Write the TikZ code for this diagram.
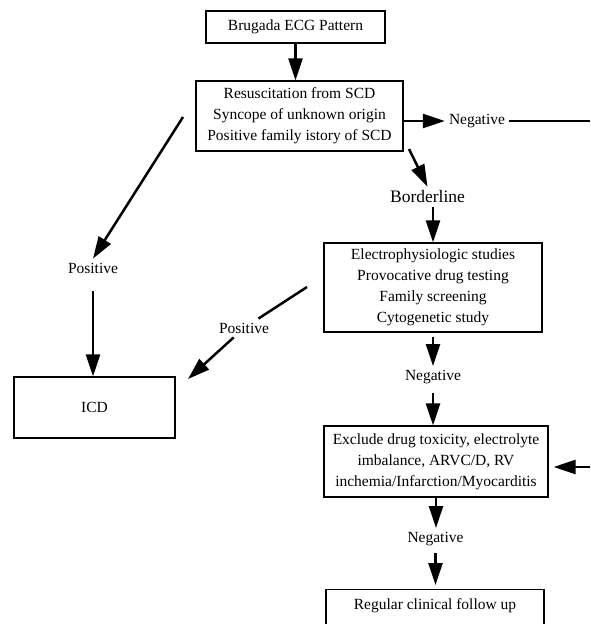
\documentclass[tikz,border=0pt]{standalone}
\usepackage{fontspec}
\setmainfont{Liberation Serif}
\usetikzlibrary{arrows.meta,calc}

\begin{document}
\begin{tikzpicture}[x = 1pt, y = -1pt,
  box/.style = {draw, line width = 1.2pt, shape = rectangle, align = center, inner sep = 0pt, font = \fontsize{15.5}{21}\selectfont},
  lbl/.style = {inner sep = 4pt, font = \fontsize{15.5}{19}\selectfont},
  arr/.style = {line width = 2.5pt, -{Triangle[length = 22pt, width = 14pt]}},
  ln/.style = {line width = 2.5pt}]
\useasboundingbox (0,0) rectangle (590,624);
% boxes
\node[box, minimum width = 179, minimum height = 32] (1) at (295.5,27) {Brugada ECG Pattern};
\node[box, minimum width = 207, minimum height = 70] (2) at (299.5,116) {Resuscitation from SCD\\Syncope of unknown origin\\Positive family istory of SCD};
\node[box, minimum width = 161, minimum height = 61] (6) at (94.5,407.5) {ICD};
\node[box, minimum width = 218, minimum height = 89] (7) at (433,287.5) {Electrophysiologic studies\\Provocative drug testing\\Family screening\\Cytogenetic study};
\node[box, minimum width = 224, minimum height = 71] (10) at (436,461.5) {Exclude drug toxicity, electrolyte\\imbalance, ARVC/D, RV\\inchemia/Infarction/Myocarditis};
\node[box, minimum width = 218, anchor = north, inner ysep = 9pt, text depth = 40pt] (12) at (435,589) {Regular clinical follow up};
% labels
\node[lbl] (3) at (477,121) {Negative};
\node[lbl, font = \fontsize{17.5}{20}\selectfont] (4) at (427.5,197) {Borderline};
\node[lbl] (5) at (93,268) {Positive};
\node[lbl] (8) at (244,328) {Positive};
\node[lbl] (9) at (433,377) {Negative};
\node[lbl] (11) at (435.5,539) {Negative};
% loose ends
\coordinate (r1) at (590,121);
\coordinate (r2) at (590,467);
\coordinate (b1) at (409,149);
\coordinate (p1) at (183,117);
\coordinate (p2) at (307,287);
\coordinate (i1) at (188,379);
% connectors
\draw[arr] (1.south) -- (1.south |- 2.north);
\draw[arr] (2.east |- 3.west) -- (3.west);
\draw[ln] (3.east) -- (r1);
\draw[arr] (b1) -- (4.north);
\draw[arr] (7.north |- 4.south) -- (7.north);
\draw[arr] (p1) -- (5.north);
\draw[arr, shorten < = 14pt] (5.south) -- (5.south |- 6.north);
\draw[ln] (p2) -- (8);
\draw[arr] (8) -- (i1);
\draw[arr, shorten < = 4pt] (7.south) -- (9.north);
\draw[arr, shorten < = 5pt] (9.south) -- (9.south |- 10.north);
\draw[arr] (10.south) -- (10.south |- 11.north);
\draw[arr, shorten < = 3pt, shorten > = 4pt] (11.south) -- (11.south |- 12.north);
\draw[arr, shorten > = 5pt] (r2) -- (10.east |- r2);
\end{tikzpicture}
\end{document}
